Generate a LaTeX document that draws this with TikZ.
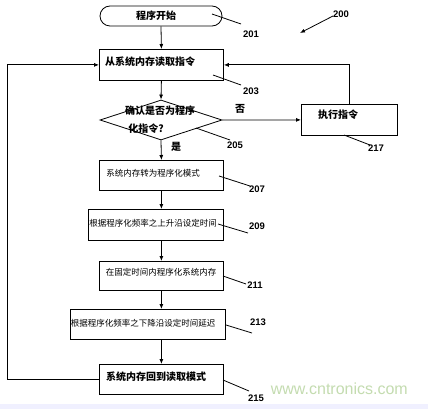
\documentclass[tikz,border=0pt]{standalone}
\usepackage{fontspec}
\setmainfont{Liberation Sans}
\newfontfamily\cjk{Noto Sans CJK SC}
\usetikzlibrary{arrows.meta,shapes.geometric}
\definecolor{wmgreen}{RGB}{196,220,176}
\begin{document}
\begin{tikzpicture}[x=1pt,y=-1pt,
  box/.style={draw,line width=0.8pt,inner sep=0pt,anchor=north west},
  txt/.style={font=\cjk\bfseries\fontsize{10}{10}\selectfont,inner sep=0pt},
  stxt/.style={font=\cjk\fontsize{8.5}{8.5}\selectfont,inner sep=0pt},
  num/.style={font=\bfseries\fontsize{9.5}{9.5}\selectfont,inner sep=0pt},
  lead/.style={line width=0.8pt},
  arr/.style={line width=0.8pt,-{Latex[length=5pt,width=4pt]}}]
\useasboundingbox (0,0) rectangle (428,409);
\fill[white] (0,0) rectangle (428,409);
\fill[blue!6] (0,404) rectangle (428,409);
% start
\node[draw,line width=0.8pt,rounded corners=10pt,minimum width=122pt,minimum height=20pt,inner sep=0pt] (s) at (161,16) {};
\node[txt] (st) at (156,16) {程序开始};
% boxes
\node[box,minimum width=124pt,minimum height=31pt] (b203) at (99,49) {};
\node[txt,anchor=west] (t203) at (105,62) {从系统内存读取指令};
\node[draw,line width=0.8pt,diamond,aspect=3.05,minimum width=122pt,minimum height=40pt,inner sep=0pt] (d) at (161,120) {};
\node[txt] (td1) at (160,111) {确认是否为程序};
\node[txt] (td2) at (146,129) {化指令?};
\node[box,minimum width=96pt,minimum height=31pt] (b217) at (301,104) {};
\node[txt] (t217) at (338,115) {执行指令};
\node[box,minimum width=124pt,minimum height=30pt] (b207) at (99,160) {};
\node[stxt] (t207) at (153,173) {系统内存转为程序化模式};
\node[box,minimum width=135pt,minimum height=31pt] (b209) at (88,209) {};
\node[stxt] (t209) at (153,223) {根据程序化频率之上升沿设定时间};
\node[box,minimum width=124pt,minimum height=29pt] (b211) at (99,261) {};
\node[stxt] (t211) at (161,272) {在固定时间内程序化系统内存};
\node[box,minimum width=155pt,minimum height=30pt] (b213) at (70,309) {};
\node[stxt] (t213) at (143,323) {根据程序化频率之下降沿设定时间延迟};
\node[box,minimum width=124pt,minimum height=30pt] (b215) at (99,364) {};
\node[txt] (t215) at (156,377) {系统内存回到读取模式};
% labels
\node[txt] (no) at (240,109) {否};
\node[txt] (yes) at (176,147) {是};
\node[num] (n200) at (341,14) {200};
\node[num] (n201) at (251,34) {201};
\node[num] (n203) at (251,91) {203};
\node[num] (n205) at (235,145) {205};
\node[num] (n217) at (376,148) {217};
\node[num] (n207) at (257,189) {207};
\node[num] (n209) at (257,226) {209};
\node[num] (n211) at (255,285) {211};
\node[num] (n213) at (258,322) {213};
\node[num] (n215) at (256,398) {215};
\node[font=\fontsize{16}{16}\selectfont,text=wmgreen,inner sep=0pt,anchor=east] (wm) at (408,389) {www.cntronics.com};
% leaders
\coordinate (l201a) at (212,14); \coordinate (l201b) at (241,24);
\draw[lead] (l201a) -- (l201b);
\coordinate (l203a) at (213,75); \coordinate (l203b) at (241,85);
\draw[lead] (l203a) -- (l203b);
\coordinate (l205a) at (196,128); \coordinate (l205b) at (230,140);
\draw[lead] (l205a) -- (l205b);
\coordinate (l217a) at (344,135); \coordinate (l217b) at (370,145);
\draw[lead] (l217a) -- (l217b);
\coordinate (l207a) at (219,176); \coordinate (l207b) at (250,186);
\draw[lead] (l207a) -- (l207b);
\coordinate (l209a) at (218,224); \coordinate (l209b) at (248,233);
\draw[lead] (l209a) -- (l209b);
\coordinate (l211a) at (223,276); \coordinate (l211b) at (246,284);
\draw[lead] (l211a) -- (l211b);
\coordinate (l213a) at (226,325); \coordinate (l213b) at (252,333);
\draw[lead] (l213a) -- (l213b);
\coordinate (l215a) at (223,380); \coordinate (l215b) at (249,391);
\draw[lead] (l215a) -- (l215b);
\coordinate (a200a) at (333,16); \coordinate (a200b) at (300,33);
\draw[arr] (a200a) -- (a200b);
% connectors
\draw[arr] (s.south) -- (b203.north);
\draw[arr] (b203.south) -- (d.north);
\draw[arr] (d.east) -- (b217.west);
\draw[arr] (b217.north) |- (b203.east);
\draw[arr] (d.south) -- (b207.north);
\draw[arr] (b207.south) -- (b209.north -| b207.south);
\draw[arr] (b209.south -| b207.south) -- (b211.north);
\draw[arr] (b211.south) -- (b213.north -| b211.south);
\draw[arr] (b213.south -| b211.south) -- (b215.north);
\coordinate (lp) at (7,0);
\draw[arr] (b215.west) -| (lp |- b203.west) -- (b203.west);
\end{tikzpicture}
\end{document}
